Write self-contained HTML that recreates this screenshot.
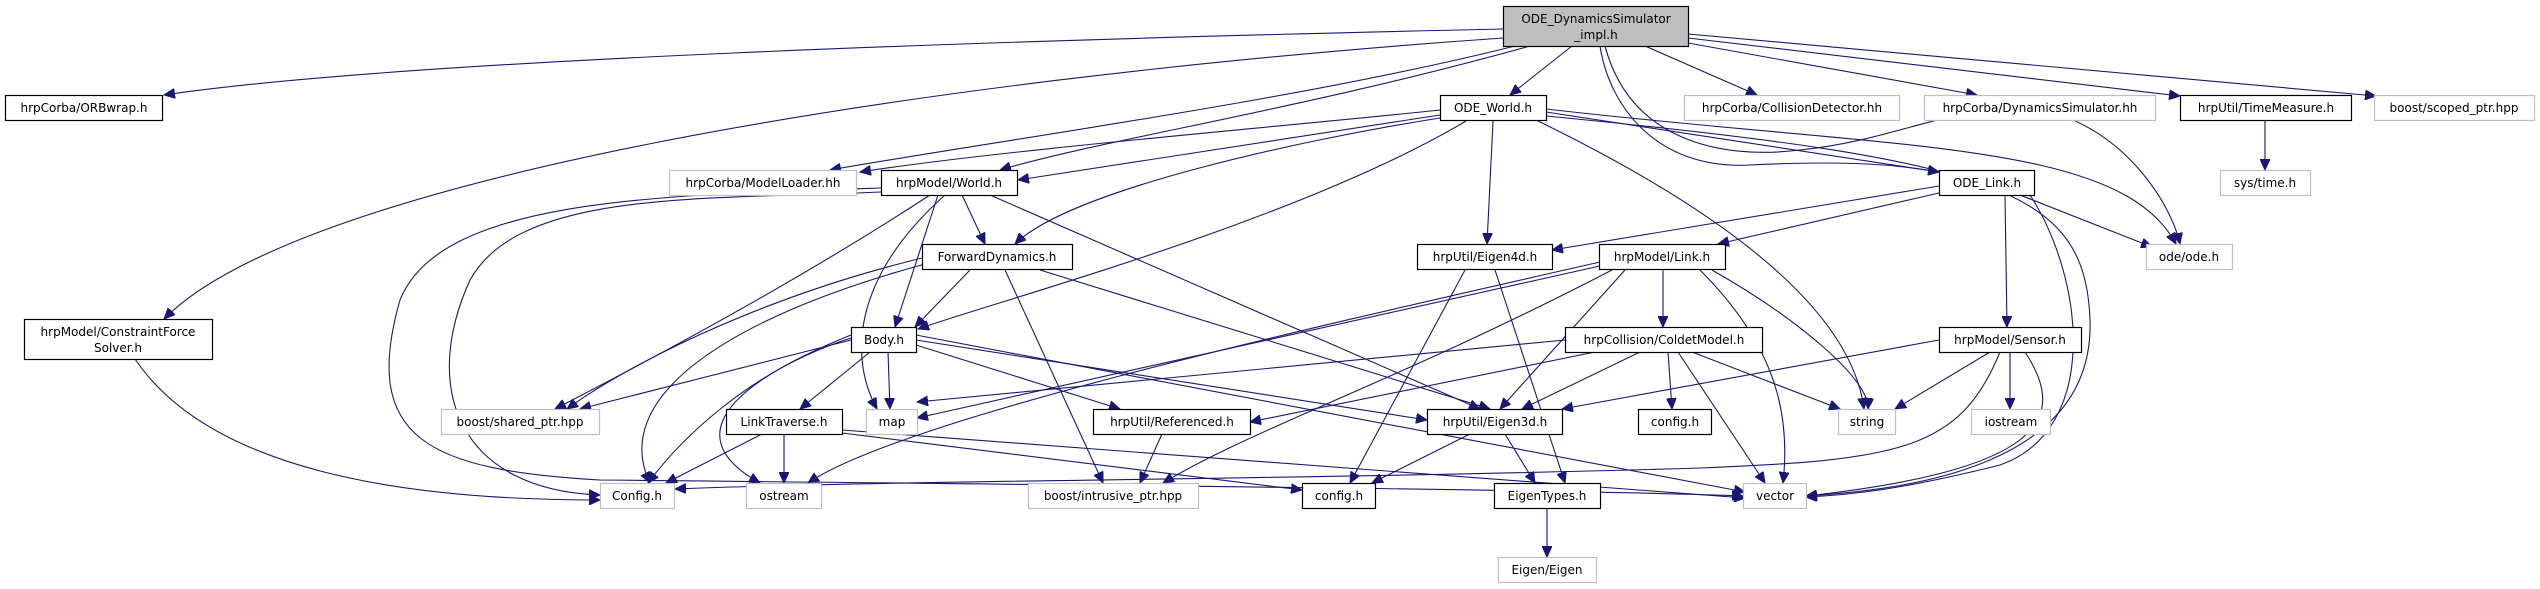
<!DOCTYPE html>
<html><head><meta charset="utf-8"><style>
html,body{margin:0;padding:0;background:#fff;}
svg{display:block;}
text{font-family:"DejaVu Sans","Liberation Sans",sans-serif;font-size:12px;fill:#000;text-anchor:middle;}
.e{fill:none;stroke:#191970;stroke-width:1.1;marker-end:url(#a);}
.b{fill:#fff;stroke:#000;stroke-width:1.2;}
.g{fill:#fff;stroke:#bfbfbf;stroke-width:1.2;}
</style></head><body>
<svg width="2540" height="589" viewBox="0 0 2540 589" xmlns="http://www.w3.org/2000/svg">
<defs><marker id="a" markerUnits="userSpaceOnUse" markerWidth="12" markerHeight="10" refX="11" refY="5" orient="auto"><path d="M0,0 L11,5 L0,10 z" fill="#191970" stroke="#191970"/></marker></defs>
<!-- edges from ODE_Dyn -->
<path class="e" d="M1503,29 C1000,40 400,60 164,95"/>
<path class="e" d="M1503,38 C900,80 300,180 164,319"/>
<path class="e" d="M1515,46 C1300,100 1000,140 830,170"/>
<path class="e" d="M1530,46 C1300,110 1100,140 1000,170"/>
<path class="e" d="M1572,46 L1510,95"/>
<path class="e" d="M1645,46 L1757,95"/>
<path class="e" d="M1688,43 L1977,95"/>
<path class="e" d="M1688,38 L2180,96"/>
<path class="e" d="M1688,34 L2376,96"/>
<path class="e" d="M1600,46 C1610,110 1660,170 1750,165 C1850,160 1900,165 1939,172"/>
<path class="e" d="M1605,46 C1630,140 1720,160 1800,150 C1900,140 1960,100 2040,110 C2120,125 2170,200 2180,244"/>
<!-- ODE_World -->
<path class="e" d="M1440,110 C1300,125 1000,150 860,172"/>
<path class="e" d="M1440,115 L1018,180"/>
<path class="e" d="M1440,118 C1300,140 1070,190 1015,244"/>
<path class="e" d="M1466,121 C1300,220 1000,300 918,329"/>
<path class="e" d="M1493,121 L1487,244"/>
<path class="e" d="M1546,112 L1939,172"/>
<path class="e" d="M1546,109 C1900,150 2120,140 2176,244"/>
<path class="e" d="M1538,121 C1700,200 1850,300 1864,409"/>
<path class="e" d="M1546,116 C2000,160 2085,190 2090,320 C2095,470 1900,490 1806,496"/>
<!-- World.h -->
<path class="e" d="M881,192 C700,200 520,190 470,280 C420,390 460,490 600,495"/>
<path class="e" d="M881,188 C650,195 440,200 400,300 C360,440 430,470 600,480 C1100,485 1600,490 1743,496"/>
<path class="e" d="M938,195 L895,327"/>
<path class="e" d="M962,195 L985,244"/>
<path class="e" d="M930,195 C800,280 650,360 555,409"/>
<path class="e" d="M945,195 C850,280 850,360 877,409"/>
<path class="e" d="M990,195 L1480,409"/>
<!-- ForwardDynamics -->
<path class="e" d="M970,270 L915,327"/>
<path class="e" d="M922,258 C750,300 620,370 567,409"/>
<path class="e" d="M925,264 C720,320 610,400 650,483"/>
<path class="e" d="M1005,270 L1103,483"/>
<path class="e" d="M1040,270 L1490,409"/>
<!-- ConstraintForceSolver -->
<path class="e" d="M135,359 C210,470 400,500 600,500"/>
<!-- Body.h -->
<path class="e" d="M851,340 L580,409"/>
<path class="e" d="M870,352 L800,409"/>
<path class="e" d="M888,352 L890,409"/>
<path class="e" d="M916,345 L1120,409"/>
<path class="e" d="M916,340 L1427,420"/>
<path class="e" d="M916,335 L1745,492"/>
<path class="e" d="M851,338 C750,370 680,440 648,483"/>
<path class="e" d="M851,335 C690,400 700,450 760,483"/>
<!-- LinkTraverse -->
<path class="e" d="M762,434 L666,483"/>
<path class="e" d="M784,434 L784,483"/>
<path class="e" d="M842,430 L1745,498"/>
<path class="e" d="M842,433 L1302,490"/>
<!-- Referenced -->
<path class="e" d="M1162,434 L1140,483"/>
<!-- Eigen4d -->
<path class="e" d="M1465,270 L1350,483"/>
<path class="e" d="M1495,270 L1565,483"/>
<!-- Link.h -->
<path class="e" d="M1600,262 C1300,330 900,420 808,483"/>
<path class="e" d="M1600,266 L917,418"/>
<path class="e" d="M1663,270 L1663,327"/>
<path class="e" d="M1625,270 L1500,409"/>
<path class="e" d="M1612,270 C1400,380 1250,430 1163,483"/>
<path class="e" d="M1712,270 C1800,320 1870,380 1868,409"/>
<path class="e" d="M1700,270 C1780,350 1790,420 1783,483"/>
<!-- ODE_Link -->
<path class="e" d="M1939,186 L1552,250"/>
<path class="e" d="M1939,193 L1718,244"/>
<path class="e" d="M2020,195 L2152,247"/>
<path class="e" d="M2005,195 L2007,327"/>
<path class="e" d="M2030,195 C2085,280 2100,430 2000,465 C1900,490 1850,495 1806,497"/>
<!-- ColdetModel -->
<path class="e" d="M1565,340 L917,402"/>
<path class="e" d="M1595,352 L1250,422"/>
<path class="e" d="M1640,352 L1522,409"/>
<path class="e" d="M1668,352 L1672,409"/>
<path class="e" d="M1692,352 L1840,409"/>
<path class="e" d="M1678,352 L1765,483"/>
<!-- Sensor -->
<path class="e" d="M1939,340 L1562,409"/>
<path class="e" d="M1990,352 L1895,409"/>
<path class="e" d="M2010,352 L2010,409"/>
<path class="e" d="M2025,352 C2070,420 2040,470 1806,496"/>
<path class="e" d="M2000,352 C1960,450 1900,460 1700,468 C1300,480 900,480 675,489"/>
<!-- Eigen3d -->
<path class="e" d="M1470,434 L1372,483"/>
<path class="e" d="M1505,434 L1535,483"/>
<path class="e" d="M1547,508 L1547,557"/>
<path class="e" d="M2265,121 L2265,170"/>
<!-- nodes -->
<rect x="1503.5" y="6.5" width="185" height="40" fill="#bfbfbf" stroke="#000" stroke-width="1.2"/>
<text x="1596" y="23">ODE_DynamicsSimulator</text><text x="1596" y="39">_impl.h</text>
<rect class="b" x="5.5" y="95.5" width="157" height="25"/><text x="84" y="112">hrpCorba/ORBwrap.h</text>
<rect class="b" x="1440.5" y="95.5" width="106" height="25"/><text x="1493" y="112">ODE_World.h</text>
<rect class="g" x="1684.5" y="95.5" width="215" height="25"/><text x="1792" y="112">hrpCorba/CollisionDetector.hh</text>
<rect class="g" x="1924.5" y="95.5" width="231" height="25"/><text x="2040" y="112">hrpCorba/DynamicsSimulator.hh</text>
<rect class="b" x="2180.5" y="95.5" width="171" height="25"/><text x="2266" y="112">hrpUtil/TimeMeasure.h</text>
<rect class="g" x="2374.5" y="95.5" width="160" height="25"/><text x="2454" y="112">boost/scoped_ptr.hpp</text>
<rect class="g" x="669.5" y="170.5" width="187" height="25"/><text x="763" y="187">hrpCorba/ModelLoader.hh</text>
<rect class="b" x="881.5" y="170.5" width="136" height="25"/><text x="949" y="187">hrpModel/World.h</text>
<rect class="b" x="1939.5" y="170.5" width="95" height="25"/><text x="1987" y="187">ODE_Link.h</text>
<rect class="g" x="2220.5" y="170.5" width="90" height="25"/><text x="2265" y="187">sys/time.h</text>
<rect class="b" x="922.5" y="244.5" width="150" height="25"/><text x="997" y="261">ForwardDynamics.h</text>
<rect class="b" x="1417.5" y="244.5" width="135" height="25"/><text x="1485" y="261">hrpUtil/Eigen4d.h</text>
<rect class="b" x="1599.5" y="244.5" width="126" height="25"/><text x="1662" y="261">hrpModel/Link.h</text>
<rect class="g" x="2146.5" y="244.5" width="86" height="25"/><text x="2189" y="261">ode/ode.h</text>
<rect class="b" x="24.5" y="319.5" width="188" height="40"/><text x="118" y="336">hrpModel/ConstraintForce</text><text x="118" y="352">Solver.h</text>
<rect class="b" x="851.5" y="327.5" width="65" height="25"/><text x="884" y="344">Body.h</text>
<rect class="b" x="1565.5" y="327.5" width="197" height="25"/><text x="1664" y="344">hrpCollision/ColdetModel.h</text>
<rect class="b" x="1939.5" y="327.5" width="142" height="25"/><text x="2010" y="344">hrpModel/Sensor.h</text>
<rect class="g" x="441.5" y="409.5" width="158" height="25"/><text x="520" y="426">boost/shared_ptr.hpp</text>
<rect class="b" x="726.5" y="409.5" width="116" height="25"/><text x="784" y="426">LinkTraverse.h</text>
<rect class="g" x="866.5" y="409.5" width="51" height="25"/><text x="892" y="426">map</text>
<rect class="b" x="1093.5" y="409.5" width="157" height="25"/><text x="1172" y="426">hrpUtil/Referenced.h</text>
<rect class="b" x="1427.5" y="409.5" width="135" height="25"/><text x="1495" y="426">hrpUtil/Eigen3d.h</text>
<rect class="b" x="1638.5" y="409.5" width="73" height="25"/><text x="1675" y="426">config.h</text>
<rect class="g" x="1838.5" y="409.5" width="57" height="25"/><text x="1867" y="426">string</text>
<rect class="g" x="1971.5" y="409.5" width="79" height="25"/><text x="2011" y="426">iostream</text>
<rect class="g" x="600.5" y="483.5" width="74" height="25"/><text x="637" y="500">Config.h</text>
<rect class="g" x="746.5" y="483.5" width="75" height="25"/><text x="784" y="500">ostream</text>
<rect class="g" x="1028.5" y="483.5" width="170" height="25"/><text x="1113" y="500">boost/intrusive_ptr.hpp</text>
<rect class="b" x="1302.5" y="483.5" width="73" height="25"/><text x="1339" y="500">config.h</text>
<rect class="b" x="1494.5" y="483.5" width="106" height="25"/><text x="1547" y="500">EigenTypes.h</text>
<rect class="g" x="1743.5" y="483.5" width="63" height="25"/><text x="1775" y="500">vector</text>
<rect class="g" x="1498.5" y="557.5" width="98" height="25"/><text x="1547" y="574">Eigen/Eigen</text>
</svg>
</body></html>
